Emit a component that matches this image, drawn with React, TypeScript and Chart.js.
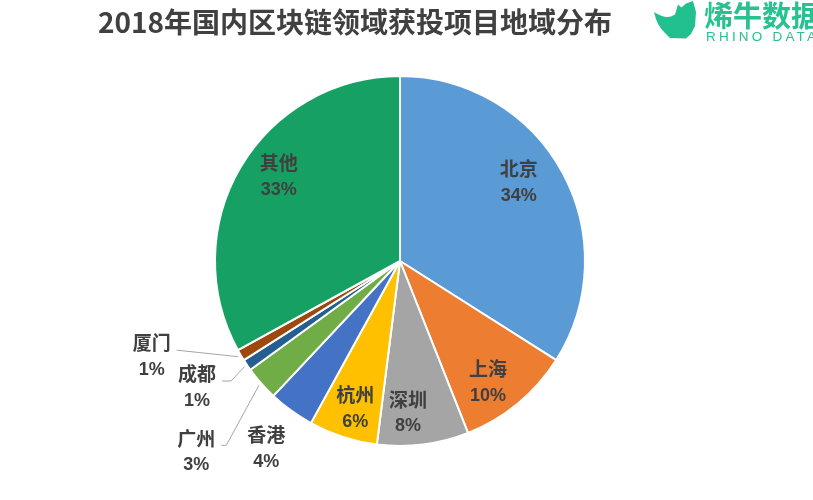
import React, { useEffect, useRef } from "react";
import { Chart, registerables } from "chart.js";

Chart.register(...registerables);

const TITLE = "2018年国内区块链领域获投项目地域分布";
const categories = ["北京", "上海", "深圳", "杭州", "香港", "广州", "成都", "厦门", "其他"];
const shares = [34, 10, 8, 6, 4, 3, 1, 1, 33];
const colors = ["#5B9BD5", "#ED7D31", "#A5A5A5", "#FFC000", "#4472C4", "#70AD47", "#255E91", "#9E480E", "#16A063"];

// Inside-label layout: radius factor and angular nudge (degrees) relative to slice middle
const insideLabels: Record<number, { f: number; da: number }> = {
  0: { f: 0.77, da: -4.8 },
  1: { f: 0.81, da: 3.6 },
  2: { f: 0.82, da: 4.2 },
  3: { f: 0.83, da: -1.1 },
  8: { f: 0.8, da: 4.4 },
};
// Outside-label layout: offset of label centre from the slice's outer mid point, leader elbow length (-1 = no leader)
const outsideLabels: Record<number, { dx: number; dy: number; elbow: number }> = {
  4: { dx: -25, dy: 37, elbow: -1 },
  5: { dx: -65, dy: 68, elbow: 5 },
  6: { dx: -50, dy: 22, elbow: 9 },
  7: { dx: -89, dy: 1, elbow: 0 },
};

const TEXT = "#404040";
const CJK = '"Noto Sans CJK SC", "Noto Sans", sans-serif';

const decorPlugin = {
  id: "decor",
  afterDatasetsDraw(chart: any) {
    const ctx = chart.ctx as CanvasRenderingContext2D;
    const meta = chart.getDatasetMeta(0);
    ctx.save();
    meta.data.forEach((arc: any, i: number) => {
      const p = arc.getProps(["x", "y", "startAngle", "endAngle", "outerRadius"], true);
      const mid = (p.startAngle + p.endAngle) / 2;
      const R = p.outerRadius;
      let cx: number, cy: number;
      const o = outsideLabels[i];
      if (o) {
        const ox = p.x + Math.cos(mid) * R;
        const oy = p.y + Math.sin(mid) * R;
        cx = ox + o.dx;
        cy = oy + o.dy;
        if (o.elbow >= 0) {
          const sx = p.x + Math.cos(mid) * (R + 3);
          const sy = p.y + Math.sin(mid) * (R + 3);
          const ex = cx + 25;
          const ey = cy - 6;
          ctx.strokeStyle = "#A6A6A6";
          ctx.lineWidth = 1;
          ctx.beginPath();
          ctx.moveTo(sx, sy);
          ctx.lineTo(ex + o.elbow, ey);
          ctx.lineTo(ex, ey);
          ctx.stroke();
        }
      } else {
        const n = insideLabels[i] || { f: 0.8, da: 0 };
        const a = mid + (n.da * Math.PI) / 180;
        cx = p.x + Math.cos(a) * R * n.f;
        cy = p.y + Math.sin(a) * R * n.f;
      }
      ctx.fillStyle = TEXT;
      ctx.textAlign = "center";
      ctx.textBaseline = "middle";
      ctx.font = `bold 19px ${CJK}`;
      ctx.fillText(categories[i], cx, cy - 13);
      ctx.font = 'bold 18px "Liberation Sans", Arial, sans-serif';
      ctx.fillText(shares[i] + "%", cx, cy + 14);
    });

    // Title
    ctx.fillStyle = "#404040";
    ctx.textAlign = "center";
    ctx.textBaseline = "middle";
    ctx.font = `bold 28px ${CJK}`;
    ctx.fillText(TITLE, 355, 22);

    // Logo icon
    ctx.fillStyle = "#22C08E";
    ctx.beginPath();
    ctx.moveTo(654, 12);
    ctx.quadraticCurveTo(664, 18.5, 671, 16.5);
    ctx.lineTo(675, 14.5);
    ctx.lineTo(678, 4.5);
    ctx.lineTo(681.5, 7.5);
    ctx.lineTo(686, 3.5);
    ctx.lineTo(693, 1);
    ctx.lineTo(696, 12);
    ctx.lineTo(695, 26);
    ctx.lineTo(691, 34);
    ctx.lineTo(686, 38.5);
    ctx.lineTo(670, 38);
    ctx.lineTo(665, 33);
    ctx.quadraticCurveTo(657, 26, 654, 12);
    ctx.closePath();
    ctx.fill();

    ctx.textAlign = "left";
    ctx.textBaseline = "alphabetic";
    ctx.fillStyle = "#27C28F";
    ctx.font = `bold 29px ${CJK}`;
    ctx.fillText("烯牛数据", 704, 27);
    ctx.font = '13.5px "Liberation Sans", Arial, sans-serif';
    (ctx as any).letterSpacing = "3.2px";
    ctx.fillText("RHINO DATA", 706, 41);
    (ctx as any).letterSpacing = "0px";
    ctx.restore();
  },
};

export default function App() {
  const ref = useRef<HTMLCanvasElement>(null);
  useEffect(() => {
    if (!ref.current) return;
    const chart = new Chart(ref.current, {
      type: "pie",
      data: {
        labels: categories,
        datasets: [
          {
            data: shares,
            backgroundColor: colors,
            borderColor: "#FFFFFF",
            borderWidth: 2,
          },
        ],
      },
      options: {
        animation: false,
        responsive: true,
        maintainAspectRatio: false,
        layout: { padding: { left: 214, right: 227, top: 75, bottom: 53 } },
        plugins: {
          legend: { display: false },
          title: { display: false },
          tooltip: { enabled: false },
        },
      },
      plugins: [decorPlugin],
    });
    return () => chart.destroy();
  }, []);
  return (
    <div style={{ position: "absolute", left: 0, top: 0, width: 813, height: 500, background: "#fff" }}>
      <canvas ref={ref} />
    </div>
  );
}
